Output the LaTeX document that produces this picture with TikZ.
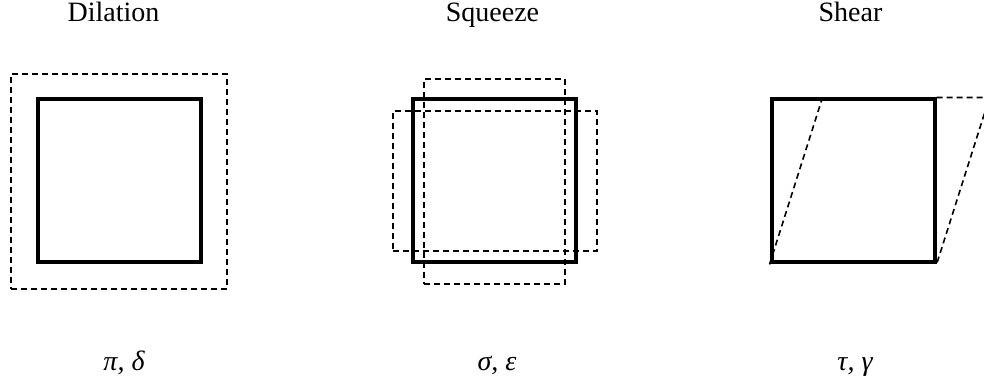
\documentclass[tikz,border=0pt]{standalone}
\usepackage{fontspec}
\setmainfont{Liberation Serif}
\usetikzlibrary{positioning}

\begin{document}
\begin{tikzpicture}[x=1pt, y=1pt]
  % Define styles
  \tikzstyle{solidbox} = [rectangle, draw, line width=4pt, minimum size=163pt, inner sep=0pt]
  \tikzstyle{dashbox} = [rectangle, draw, line width=1.6pt, dash pattern=on 6pt off 4pt, inner sep=0pt]
  \tikzstyle{title} = [font=\fontsize{28}{32}\selectfont, anchor=base, inner sep=0pt]
  \tikzstyle{param} = [font=\fontsize{28}{32}\selectfont\itshape, anchor=base, inner sep=0pt]

  \useasboundingbox (0,0) rectangle (984,387);

  % Dilation
  \node [dashbox, minimum width=216pt, minimum height=215pt] (dilout) at (119,205.5) {};
  \node [solidbox] (dil) at (119.5,206) {};

  % Squeeze
  \node [dashbox, minimum width=141pt, minimum height=205pt] (sqztall) at (494.5,205.5) {};
  \node [dashbox, minimum width=204pt, minimum height=140pt] (sqzwide) at (495,206) {};
  \node [solidbox] (sqz) at (494.5,206) {};

  % Shear
  \node [solidbox] (shr) at (853,206) {};
  \coordinate (shrtl) at ([xshift=53pt]shr.north west);
  \coordinate (shrtr) at ([xshift=53pt]shr.north east);
  \begin{scope}
    \clip (0,0) rectangle (984,387);
    \draw [dashbox] (shr.south west) -- (shrtl);
    \draw [dashbox] (shr.north east) -- (shrtr) -- (shr.south east);
  \end{scope}

  % Place labels
  \node [title] (diltitle) at (113.5,365) {Dilation};
  \node [title] (sqztitle) at (492.5,365) {Squeeze};
  \node [title] (shrtitle) at (850.5,365) {Shear};
  \node [param] (dilparam) at (124,16) {π,\hspace{7pt}δ};
  \node [param] (sqzparam) at (497,16) {σ,\hspace{7pt}ε};
  \node [param] (shrparam) at (855,16) {τ,\hspace{7pt}γ};
\end{tikzpicture}
\end{document}
